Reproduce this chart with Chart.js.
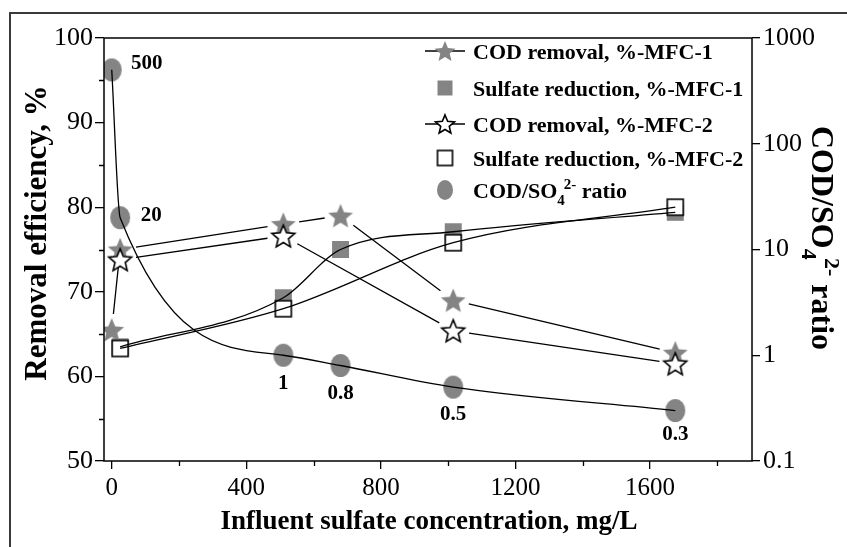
<!DOCTYPE html>
<html>
<head>
<meta charset="utf-8">
<script src="https://cdn.jsdelivr.net/npm/chart.js@4.4.1/dist/chart.umd.min.js"></script>
<style>
  html, body { margin: 0; padding: 0; background: #fff; }
  #wrap { width: 847px; height: 547px; position: relative; }
</style>
</head>
<body>
<div id="wrap"><canvas id="c" width="847" height="547"></canvas></div>
<script>
// Influent sulfate concentration (mg/L) for each run
const sulfateConc = [0, 25, 510, 680, 1015, 1675];
// Removal efficiencies (%), null where a run was not measured
const codMFC1  = [65.5, 75.0, 78.0, 79.0, 69.0, 62.8];
const sulfMFC1 = [null, 63.5, 69.3, 75.0, 77.1, 79.4];
const codMFC2  = [null, 73.8, 76.6, null, 65.4, 61.5];
const sulfMFC2 = [null, 63.3, 68.0, null, 75.8, 80.0];
// COD / SO4(2-) ratio of the feed (right axis, log scale)
const ratio = [500, 20, 1, 0.8, 0.5, 0.3];
const ratioLabels = ['500', '20', '1', '0.8', '0.5', '0.3'];

// Axis ticks
const xTicks = [0, 400, 800, 1200, 1600];
const xMinorTicks = [200, 600, 1000, 1400, 1800];
const leftTicks = [50, 60, 70, 80, 90, 100];
const leftMinorTicks = [55, 65, 75, 85, 95];
const rightTicks = [0.1, 1, 10, 100, 1000];
const rightTickLabels = ['0.1', '1', '10', '100', '1000'];

const legendLabels = [
  'COD removal, %-MFC-1',
  'Sulfate reduction, %-MFC-1',
  'COD removal, %-MFC-2',
  'Sulfate reduction, %-MFC-2'
];

const GRAY = '#848484';
const FONT = "'Liberation Serif', 'Times New Roman', serif";

function pts(ys) {
  return sulfateConc.map((x, i) => ({ x: x, y: ys[i] })).filter(p => p.y !== null);
}

// ----- marker images -----
function mkCanvas(w, h, draw) {
  const c = document.createElement('canvas');
  c.width = w; c.height = h;
  draw(c.getContext('2d'), w / 2, h / 2);
  return c;
}
function starPath(g, cx, cy, R, ri) {
  g.beginPath();
  for (let i = 0; i < 10; i++) {
    const r = i % 2 ? ri : R;
    const a = -Math.PI / 2 + i * Math.PI / 5;
    g.lineTo(cx + r * Math.cos(a), cy + r * Math.sin(a));
  }
  g.closePath();
}
function filledStar(R) {
  return mkCanvas(2 * R + 4, 2 * R + 4, (g, cx, cy) => {
    starPath(g, cx, cy + R * 0.095, R, R * 0.45);
    g.fillStyle = GRAY; g.fill();
  });
}
function openStar(R) {
  return mkCanvas(2 * R + 6, 2 * R + 6, (g, cx, cy) => {
    starPath(g, cx, cy + R * 0.095, R, R * 0.45);
    g.fillStyle = '#fff'; g.fill();
    g.lineWidth = 1.6; g.strokeStyle = '#000'; g.lineJoin = 'miter'; g.stroke();
  });
}
function blob(rx, ry) {
  return mkCanvas(2 * rx + 2, 2 * ry + 2, (g, cx, cy) => {
    g.beginPath(); g.ellipse(cx, cy, rx, ry, 0, 0, Math.PI * 2);
    g.fillStyle = GRAY; g.fill();
  });
}
function square(side, filled) {
  return mkCanvas(side + 4, side + 4, (g, cx, cy) => {
    if (filled) {
      g.fillStyle = GRAY; g.fillRect(cx - side / 2, cy - side / 2, side, side);
    } else {
      g.fillStyle = '#fff'; g.fillRect(cx - side / 2, cy - side / 2, side, side);
      g.lineWidth = 1.6; g.strokeStyle = '#000';
      g.strokeRect(cx - side / 2, cy - side / 2, side, side);
    }
  });
}

const mk = {
  starF: filledStar(13), starO: openStar(12),
  sqF: square(17, true), sqO: square(16, false),
  dot: blob(10, 11.5)
};
const lg = {
  starF: filledStar(11), starO: openStar(10),
  sqF: square(15, true), sqO: square(15, false),
  dot: blob(8, 10)
};

// ----- text helpers -----
function ratioText(g, x, y, size, draw) {
  const big = `bold ${size}px ${FONT}`;
  const small = `bold ${Math.round(size * 0.68)}px ${FONT}`;
  let cx = x;
  g.font = big;
  if (draw) g.fillText('COD/SO', cx, y);
  cx += g.measureText('COD/SO').width;
  g.font = small;
  const w4 = g.measureText('4').width;
  if (draw) g.fillText('4', cx, y + size * 0.3);
  if (draw) g.fillText('2-', cx + w4 * 0.85, y - size * 0.42);
  cx += w4 * 0.85 + g.measureText('2-').width;
  g.font = big;
  if (draw) g.fillText(' ratio', cx, y);
  cx += g.measureText(' ratio').width;
  return cx - x;
}

// dataset indices
const CURVE_S2 = 0, CURVE_S1 = 1, CURVE_R = 2, PT_S2 = 3, PT_C2 = 4, PT_S1 = 5, PT_C1 = 6, PT_R = 7;

const decorations = {
  id: 'decorations',
  beforeDraw(chart) {
    const g = chart.ctx;
    g.save();
    g.fillStyle = '#fff';
    g.fillRect(0, 0, chart.width, chart.height);
    // figure frame
    g.strokeStyle = '#3a3a3a'; g.lineWidth = 2;
    g.beginPath();
    g.moveTo(10, chart.height + 5); g.lineTo(10, 13); g.lineTo(chart.width + 5, 13);
    g.stroke();
    g.restore();
  },
  beforeDatasetsDraw(chart) {
    // COD removal polylines, broken off short of each star
    const g = chart.ctx;
    const gap = 16;
    g.save();
    g.strokeStyle = '#000'; g.lineWidth = 1.3;
    [PT_C1, PT_C2].forEach(di => {
      const el = chart.getDatasetMeta(di).data;
      g.beginPath();
      for (let i = 0; i < el.length - 1; i++) {
        const p = el[i], q = el[i + 1];
        const dx = q.x - p.x, dy = q.y - p.y, d = Math.hypot(dx, dy);
        if (d <= 2 * gap) continue;
        const ux = dx / d, uy = dy / d;
        g.moveTo(p.x + ux * gap, p.y + uy * gap);
        g.lineTo(q.x - ux * gap, q.y - uy * gap);
      }
      g.stroke();
    });
    g.restore();
  },
  afterDraw(chart) {
    const g = chart.ctx;
    const a = chart.chartArea;
    const xs = chart.scales.x, yl = chart.scales.y;
    g.save();
    // plot frame
    g.strokeStyle = '#000'; g.lineWidth = 1.5;
    g.strokeRect(a.left, a.top, a.right - a.left, a.bottom - a.top);
    // minor ticks
    g.lineWidth = 1.3;
    g.beginPath();
    xMinorTicks.forEach(v => {
      const px = Math.round(xs.getPixelForValue(v)) + 0.5;
      g.moveTo(px, a.bottom); g.lineTo(px, a.bottom + 5);
    });
    leftMinorTicks.forEach(v => {
      const py = Math.round(yl.getPixelForValue(v)) + 0.5;
      g.moveTo(a.left, py); g.lineTo(a.left - 5, py);
    });
    g.stroke();

    // value labels next to the ratio markers
    const offsets = [[35, -6], [31, -2], [0, 28], [0, 28], [0, 27], [0, 24]];
    const meta = chart.getDatasetMeta(PT_R);
    g.fillStyle = '#000';
    g.font = `bold 21px ${FONT}`;
    g.textAlign = 'center'; g.textBaseline = 'middle';
    meta.data.forEach((el, i) => {
      g.fillText(ratioLabels[i], el.x + offsets[i][0], el.y + offsets[i][1]);
    });

    // legend
    const lx = 445, tx = 473;
    const rows = [51, 88, 124, 158, 190];
    const icons = [lg.starF, lg.sqF, lg.starO, lg.sqO, lg.dot];
    g.lineWidth = 1.3; g.strokeStyle = '#000';
    rows.forEach((ry, i) => {
      if (i === 0 || i === 2) {
        g.beginPath(); g.moveTo(lx - 20, ry); g.lineTo(lx + 20, ry); g.stroke();
      }
      const ic = icons[i];
      g.drawImage(ic, lx - ic.width / 2, ry - ic.height / 2);
    });
    g.textAlign = 'left'; g.textBaseline = 'alphabetic';
    g.font = `bold 22px ${FONT}`;
    legendLabels.forEach((t, i) => g.fillText(t, tx, rows[i] + 8));
    ratioText(g, tx, rows[4] + 8, 22, true);

    // axis titles
    g.textAlign = 'center'; g.textBaseline = 'middle';
    g.font = `bold 27px ${FONT}`;
    g.fillText('Influent sulfate concentration, mg/L', 429, 522);

    g.save();
    g.translate(38, 233); g.rotate(-Math.PI / 2);
    g.font = `bold 31px ${FONT}`;
    g.fillText('Removal efficiency, %', 0, 0);
    g.restore();

    g.save();
    g.translate(812, 238); g.rotate(Math.PI / 2);
    g.textAlign = 'left'; g.textBaseline = 'alphabetic';
    const w = ratioText(g, 0, 0, 32, false);
    ratioText(g, -w / 2, 0, 32, true);
    g.restore();

    g.restore();
  }
};

const curve = (label, data, axis) => ({
  label, data, yAxisID: axis, borderColor: '#000', borderWidth: 1.3, fill: false,
  pointRadius: 0, cubicInterpolationMode: 'monotone'
});
const marks = (label, data, axis, style) => ({
  label, data, yAxisID: axis, showLine: false, pointStyle: style,
  borderColor: '#000', backgroundColor: GRAY
});

new Chart(document.getElementById('c'), {
  type: 'line',
  data: {
    datasets: [
      curve(legendLabels[3], pts(sulfMFC2), 'y'),
      curve(legendLabels[1], pts(sulfMFC1), 'y'),
      curve('COD/SO4 ratio', pts(ratio), 'y2'),
      marks(legendLabels[3], pts(sulfMFC2), 'y', mk.sqO),
      marks(legendLabels[2], pts(codMFC2), 'y', mk.starO),
      marks(legendLabels[1], pts(sulfMFC1), 'y', mk.sqF),
      marks(legendLabels[0], pts(codMFC1), 'y', mk.starF),
      marks('COD/SO4 ratio', pts(ratio), 'y2', mk.dot)
    ]
  },
  options: {
    responsive: false,
    animation: false,
    devicePixelRatio: 1,
    layout: { padding: { top: 38, left: 0, right: 0, bottom: 0 } },
    plugins: { legend: { display: false }, tooltip: { enabled: false } },
    scales: {
      x: {
        type: 'linear', position: 'bottom', min: -23, max: 1903,
        afterBuildTicks: s => { s.ticks = xTicks.map(v => ({ value: v })); },
        afterFit: s => { s.height = 86; },
        grid: { drawOnChartArea: false, drawTicks: true, tickLength: 8, color: '#000', lineWidth: 1.3 },
        border: { display: false },
        ticks: { color: '#000', font: { family: FONT, size: 25 }, padding: 4, maxRotation: 0,
                 callback: v => String(v) }
      },
      y: {
        type: 'linear', position: 'left', min: 50, max: 100,
        afterBuildTicks: s => { s.ticks = leftTicks.map(v => ({ value: v })); },
        afterFit: s => { s.width = 104; },
        grid: { drawOnChartArea: false, drawTicks: true, tickLength: 9, color: '#000', lineWidth: 1.3 },
        border: { display: false },
        ticks: { color: '#000', font: { family: FONT, size: 26 }, padding: 2, callback: v => String(v) }
      },
      y2: {
        type: 'logarithmic', position: 'right', min: 0.1, max: 1000,
        afterBuildTicks: s => { s.ticks = rightTicks.map(v => ({ value: v })); },
        afterFit: s => { s.width = 95; },
        grid: { drawOnChartArea: false, drawTicks: true, tickLength: 8, color: '#000', lineWidth: 1.3 },
        border: { display: false },
        ticks: {
          color: '#000', font: { family: FONT, size: 26 }, padding: 3,
          callback: v => { const i = rightTicks.indexOf(v); return i >= 0 ? rightTickLabels[i] : ''; }
        }
      }
    }
  },
  plugins: [decorations]
});
</script>
</body>
</html>
